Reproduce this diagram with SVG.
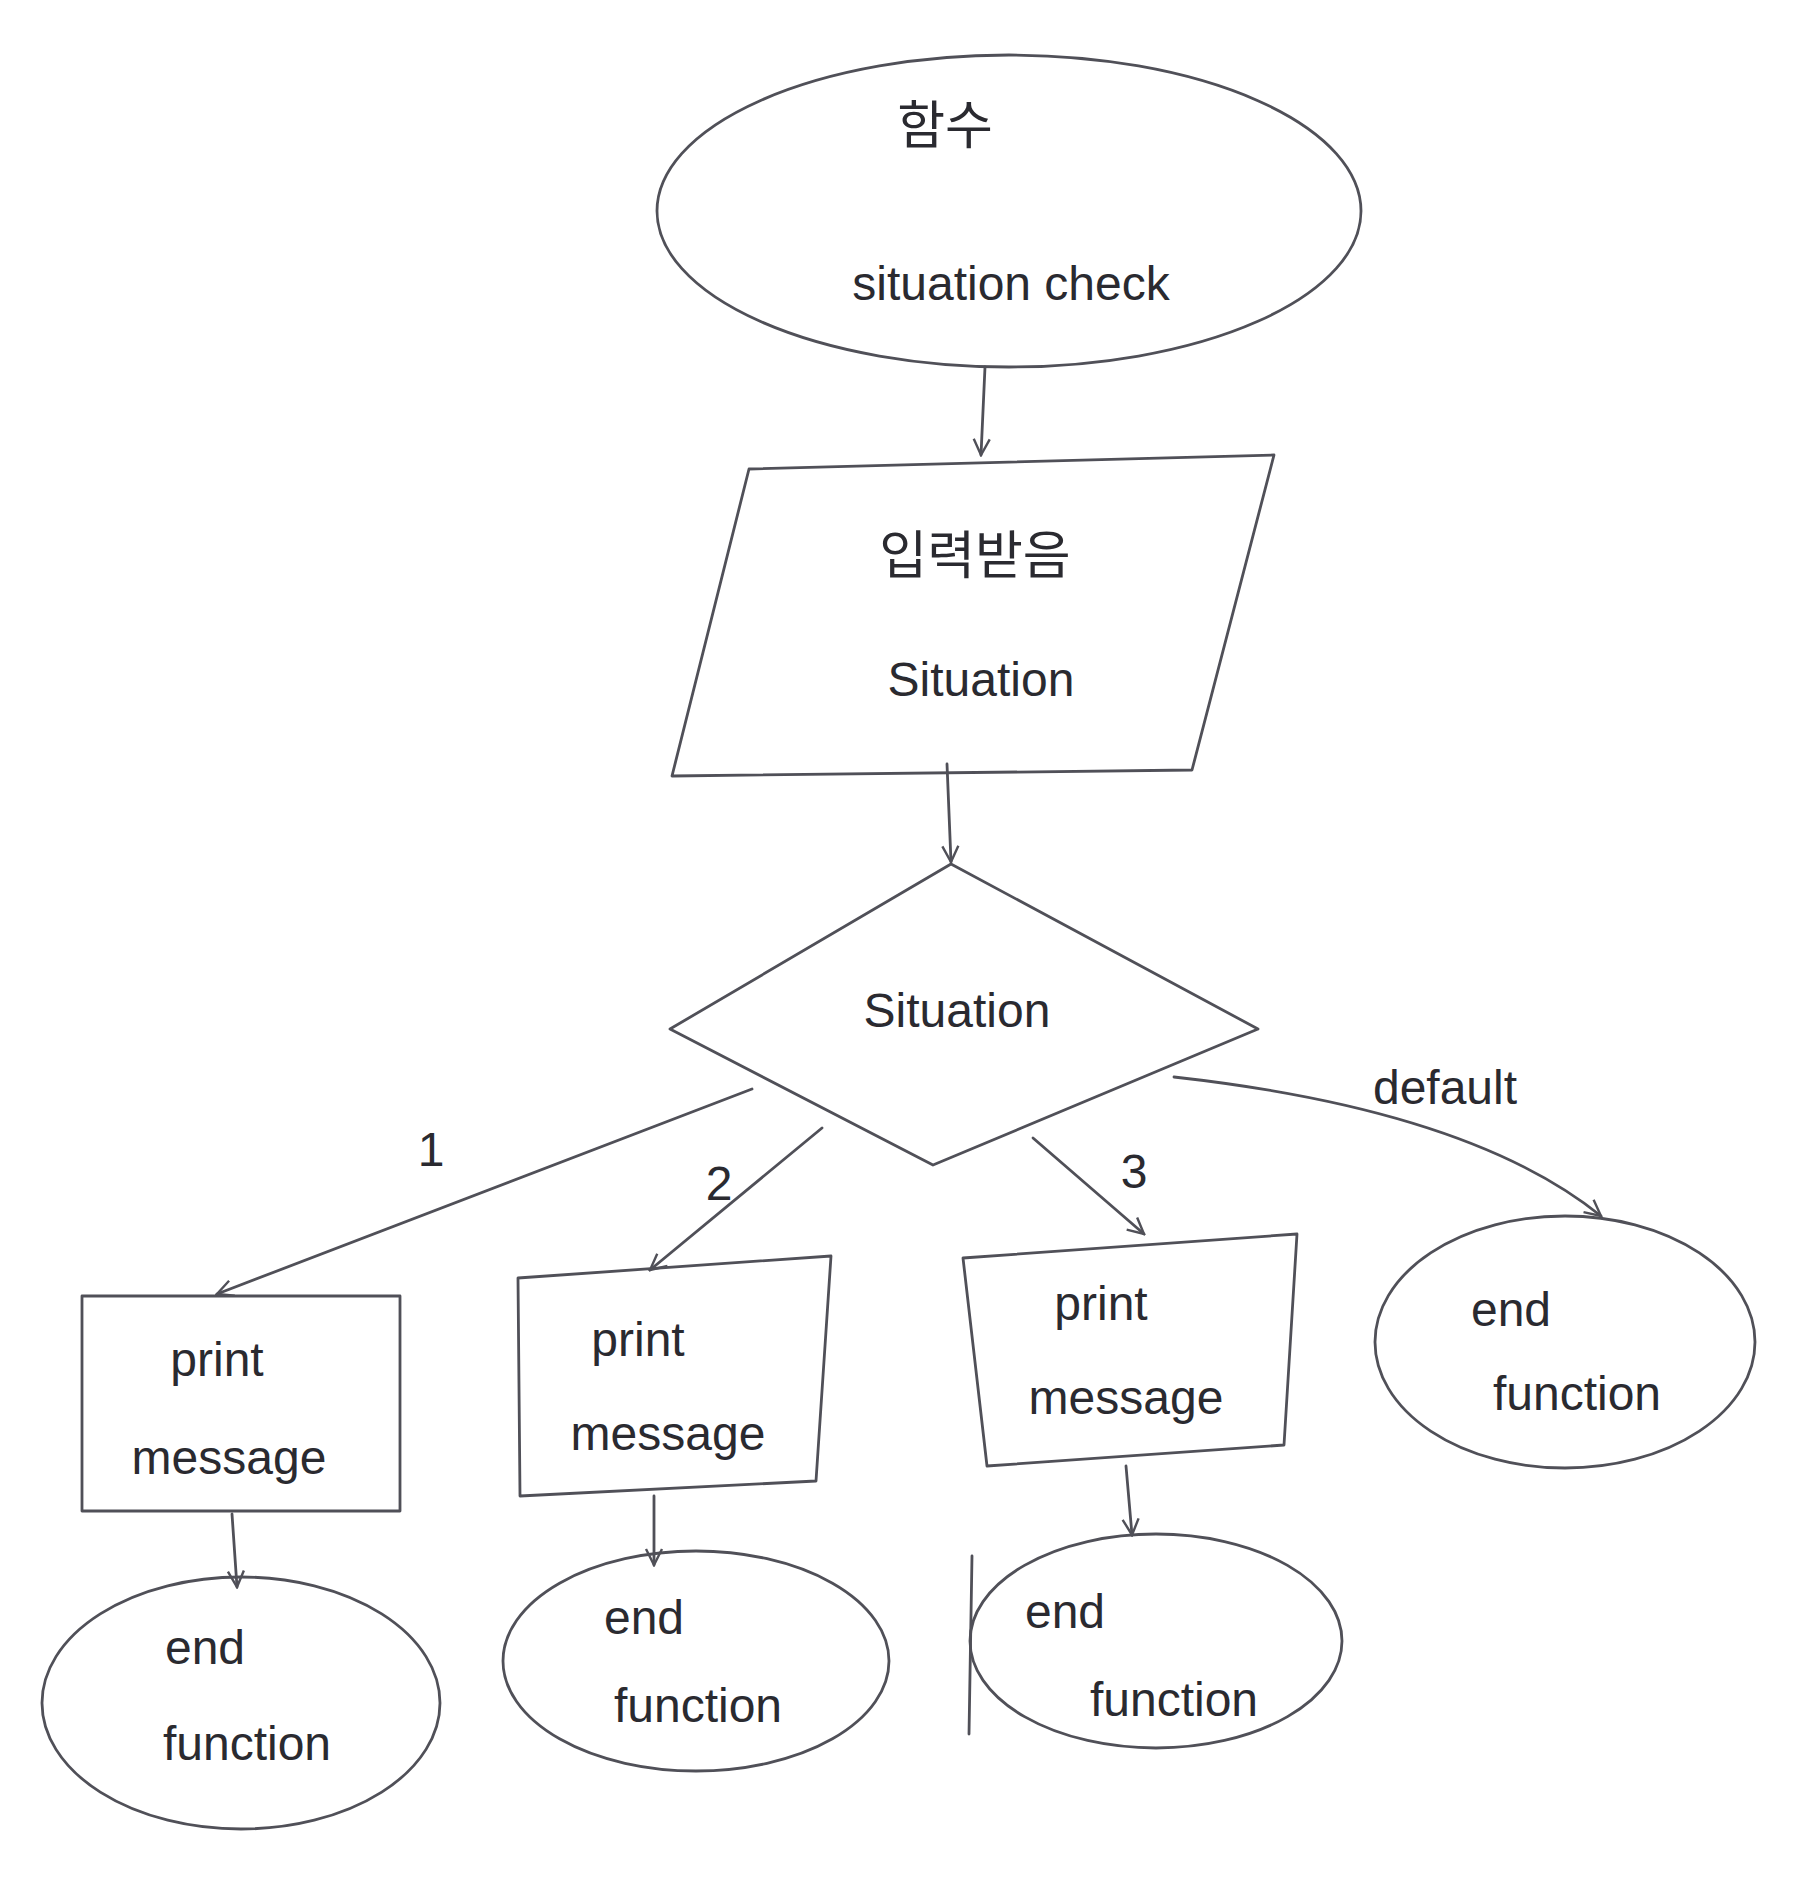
<svg xmlns="http://www.w3.org/2000/svg" width="1796" height="1888" viewBox="0 0 1796 1888">
<style>
.s{fill:none;stroke:#505058;stroke-width:2.8;stroke-linejoin:round;stroke-linecap:round}
.t{font-family:"Liberation Sans","Noto Sans CJK KR",sans-serif;fill:#2a2a30;text-anchor:middle}
.l{font-size:48px}
.k{font-size:52px}
</style>
<defs>
<marker id="ah" viewBox="0 0 20 20" refX="18" refY="10" markerWidth="20" markerHeight="20" markerUnits="userSpaceOnUse" orient="auto">
<polyline points="2,2 18,10 2,18" fill="none" stroke="#505058" stroke-width="2.4"/>
</marker>
</defs>
<rect width="1796" height="1888" fill="#ffffff"/>
<g id="start">
<ellipse class="s" cx="1009" cy="211" rx="352" ry="156"/>
<text class="t k" x="945" y="144">함수</text>
<text class="t l" x="1011" y="300">situation check</text>
</g>
<g id="input">
<polygon class="s" points="749,469 1274,455 1192,770 672,776"/>
<text class="t k" x="975" y="574">입력받음</text>
<text class="t l" x="981" y="696">Situation</text>
</g>
<g id="decision">
<polygon class="s" points="951,864 1258,1029 933,1165 670,1029"/>
<text class="t l" x="957" y="1027">Situation</text>
</g>
<g id="print1">
<rect class="s" x="82" y="1296" width="318" height="215"/>
<text class="t l" x="217" y="1376">print</text>
<text class="t l" x="229" y="1474">message</text>
</g>
<g id="print2">
<polygon class="s" points="518,1278 831,1256 816,1481 520,1496"/>
<text class="t l" x="638" y="1356">print</text>
<text class="t l" x="668" y="1450">message</text>
</g>
<g id="print3">
<polygon class="s" points="963,1258 1297,1234 1284,1445 987,1466"/>
<text class="t l" x="1101" y="1320">print</text>
<text class="t l" x="1126" y="1414">message</text>
</g>
<g id="end1">
<ellipse class="s" cx="241" cy="1703" rx="199" ry="126"/>
<text class="t l" x="205" y="1664">end</text>
<text class="t l" x="247" y="1760">function</text>
</g>
<g id="end2">
<ellipse class="s" cx="696" cy="1661" rx="193" ry="110"/>
<text class="t l" x="644" y="1634">end</text>
<text class="t l" x="698" y="1722">function</text>
</g>
<g id="end3">
<ellipse class="s" cx="1156" cy="1641" rx="186" ry="107"/>
<path class="s" d="M972,1556 L969,1734"/>
<text class="t l" x="1065" y="1628">end</text>
<text class="t l" x="1174" y="1716">function</text>
</g>
<g id="endDefault">
<ellipse class="s" cx="1565" cy="1342" rx="190" ry="126"/>
<text class="t l" x="1511" y="1326">end</text>
<text class="t l" x="1577" y="1410">function</text>
</g>
<g id="connectors">
<path class="s" d="M985,367 L981,455" marker-end="url(#ah)"/>
<path class="s" d="M947,764 L951,862" marker-end="url(#ah)"/>
<path class="s" d="M752,1089 L217,1294" marker-end="url(#ah)"/>
<path class="s" d="M822,1128 L650,1270" marker-end="url(#ah)"/>
<path class="s" d="M1033,1138 L1144,1234" marker-end="url(#ah)"/>
<path class="s" d="M1174,1077 Q1470,1110 1601,1216" marker-end="url(#ah)"/>
<path class="s" d="M232,1514 L237,1587" marker-end="url(#ah)"/>
<path class="s" d="M654,1496 L654,1565" marker-end="url(#ah)"/>
<path class="s" d="M1126,1466 L1132,1535" marker-end="url(#ah)"/>
<text class="t l" x="431" y="1166">1</text>
<text class="t l" x="719" y="1200">2</text>
<text class="t l" x="1134" y="1188">3</text>
<text class="t l" x="1445" y="1104">default</text>
</g>
</svg>
